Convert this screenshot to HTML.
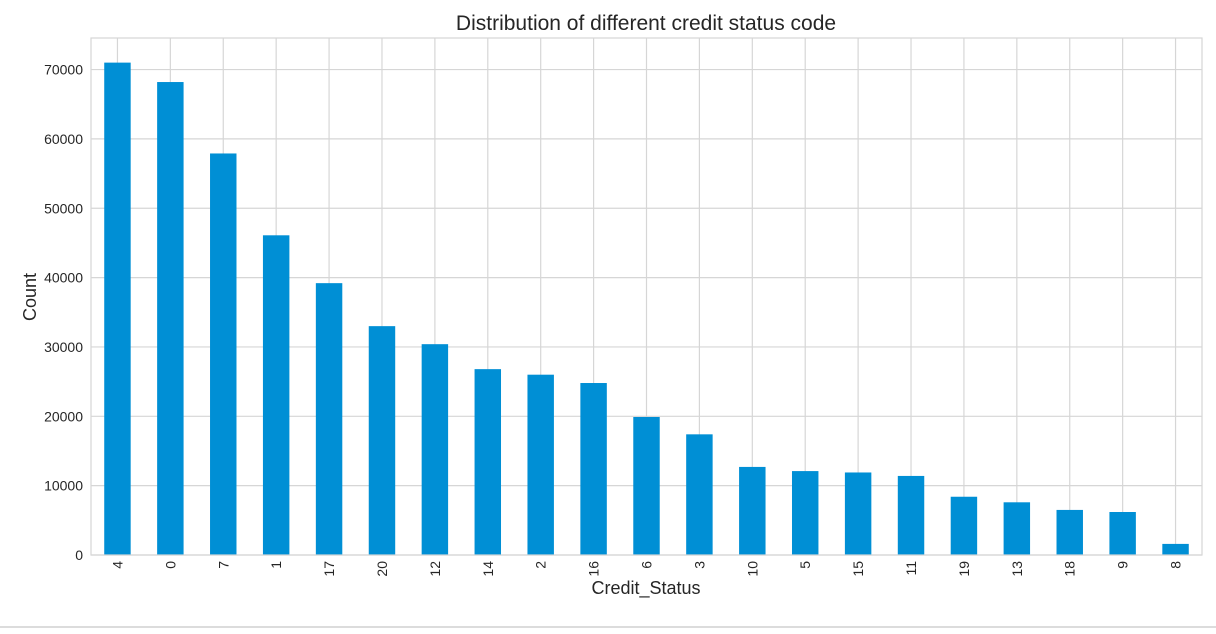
<!DOCTYPE html>
<html><head><meta charset="utf-8"><style>
body{margin:0;background:#fff;width:1216px;height:629px;overflow:hidden;font-family:"Liberation Sans",sans-serif}
</style></head><body>
<svg width="1216" height="629">
<line x1="0" y1="627" x2="1216" y2="627" stroke="#d0d0d0" stroke-width="1.5"/>
<g id="grid"></g><g id="bars"></g><g id="ticks"></g>
<rect x="91" y="38" width="1111" height="517" fill="none" stroke="#d6d6d6" stroke-width="1.2"/>
<text x="646" y="30" text-anchor="middle" font-size="21" fill="#262626">Distribution of different credit status code</text>
<text x="646" y="594" text-anchor="middle" font-size="18" fill="#262626">Credit_Status</text>
<text transform="translate(36,297) rotate(-90)" text-anchor="middle" font-size="18" fill="#262626">Count</text>
</svg>
<script>
const categories=["4","0","7","1","17","20","12","14","2","16","6","3","10","5","15","11","19","13","18","9","8"];
const counts=[71000,68200,57900,46100,39200,33000,30400,26800,26000,24800,19900,17400,12700,12100,11900,11400,8400,7600,6500,6200,1600];
const yTicks=[0,10000,20000,30000,40000,50000,60000,70000];
const L=91,R=1202,T=38,B=555,YMAX=74550;
const ns="http://www.w3.org/2000/svg";
const step=(R-L)/categories.length;
const x=i=>L+(i+0.5)*step;
const y=v=>B-(v/YMAX)*(B-T);
function mk(t,a,p){const e=document.createElementNS(ns,t);for(const k in a)e.setAttribute(k,a[k]);p.appendChild(e);return e;}
const g=document.getElementById('grid'),b=document.getElementById('bars'),tk=document.getElementById('ticks');
yTicks.forEach(v=>{
 const l=mk('line',{x1:L,x2:R,y1:y(v),y2:y(v),stroke:'#d6d6d6','stroke-width':1.2},g);
 
 
 const t=mk('text',{x:L-8,y:y(v)+5,'text-anchor':'end','font-size':14,fill:'#262626'},tk);
 t.textContent=v;
 
 
});
categories.forEach((c,i)=>{
 const l=mk('line',{x1:x(i),x2:x(i),y1:T,y2:B,stroke:'#d6d6d6','stroke-width':1.2},g);
 
 
 const r=mk('rect',{x:x(i)-step/4,y:y(counts[i]),width:step/2,height:B-y(counts[i]),fill:'#008fd5'},b);
 
 
 const t=mk('text',{transform:`translate(${x(i)+5},${B+6}) rotate(-90)`,'text-anchor':'end','font-size':14,fill:'#262626'},tk);
 t.textContent=c;
 
 
});
</script>
</body></html>
